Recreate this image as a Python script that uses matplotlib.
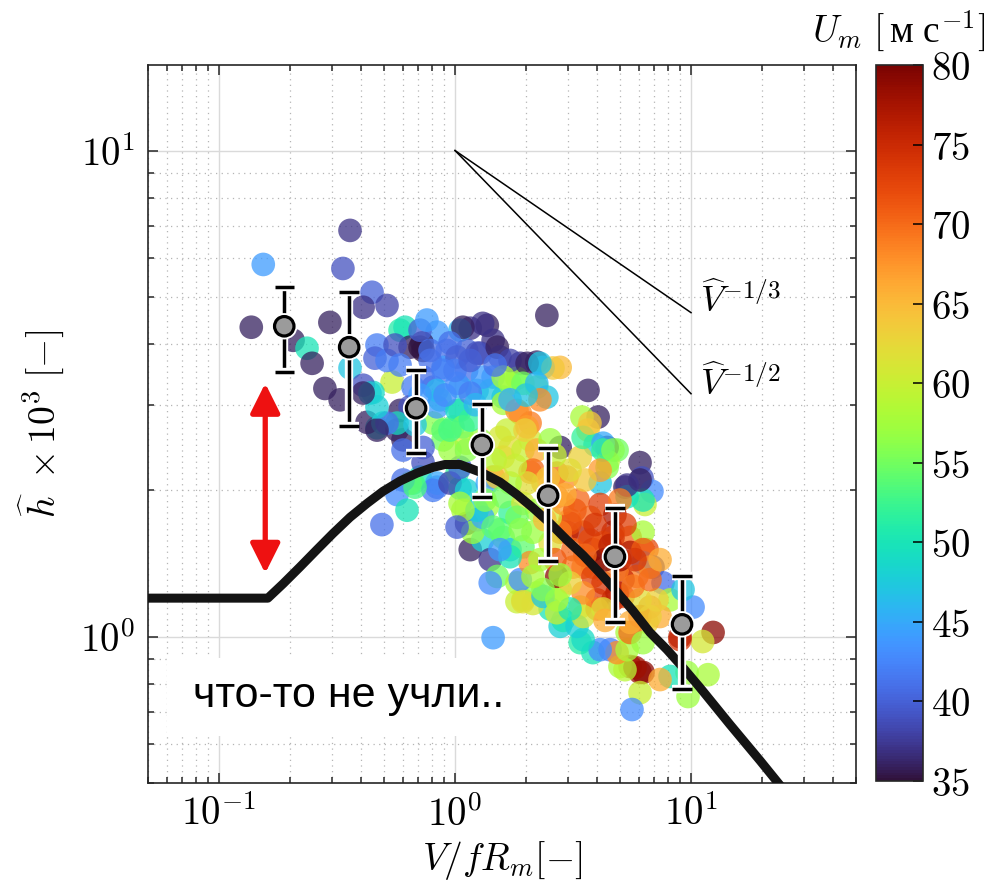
import numpy as np
import matplotlib.pyplot as plt
import matplotlib.patheffects as pe
from matplotlib.colors import Normalize
from matplotlib.patches import Rectangle
from matplotlib.ticker import FuncFormatter, LogLocator, NullFormatter

plt.rcParams["mathtext.fontset"] = "cm"

# individual storms: V/fR_m, h_hat*1e3, U_m [m/s]
v_ratio = [
    0.359, 0.154, 0.335, 0.137, 0.295, 0.445, 0.408, 0.515, 0.206, 0.236,
    0.248, 0.281, 0.326, 0.359, 0.585, 0.467, 0.458, 0.541, 0.449, 0.467,
    0.424, 0.408, 2.45, 3.66, 4.04, 3.45, 3.66, 4.86, 4.41, 3.92,
    4.45, 6.08, 6.20, 5.25, 6.83, 6.38, 5.36, 4.12, 2.79, 1.16,
    1.37, 1.45, 1.05, 0.839, 0.614, 0.725, 0.732, 0.925, 1.12, 1.28,
    1.55, 1.89, 2.22, 2.36, 2.60, 0.89, 1.12, 1.45, 1.83, 2.22,
    2.45, 0.807, 1.05, 1.24, 1.60, 1.89, 2.08, 0.864, 1.05, 0.807,
    0.98, 0.89, 1.12, 1.66, 1.71, 2.08, 2.79, 2.08, 2.70, 1.45,
    1.02, 0.711, 0.664, 0.839, 1.05, 0.732, 0.585, 0.602, 0.495, 0.568,
    0.602, 0.732, 0.645, 0.602, 0.568, 0.626, 0.490, 0.732, 0.839, 0.807,
    0.952, 1.05, 1.12, 1.37, 1.12, 1.16, 1.31, 1.41, 1.60, 1.51,
    1.94, 1.83, 2.22, 2.53, 2.79, 3.39, 3.84, 4.54, 5.52, 6.08,
    5.00, 1.45, 1.41, 4.67, 5.52, 6.51, 6.90, 6.26, 5.90, 7.61,
    8.15, 10.2, 12.4, 11.2, 8.98, 11.8, 9.62, 9.71, 8.15, 6.26,
    5.79, 5.25, 6.08, 5.62, 7.39, 4.86, 5.36, 4.12, 3.49, 5.36,
    6.51, 5.52, 6.70, 6.08, 7.39, 4.00, 3.39, 2.87, 3.29, 2.79,
    3.84, 4.24, 3.16, 2.98, 3.49, 3.73, 3.07, 5.52, 5.15, 5.15,
    4.67, 4.00, 6.08, 6.26, 6.26, 6.08, 5.36, 4.41, 9.25, 8.98,
    1.83, 2.70, 2.14, 0.677, 1.24, 1.19, 1.05, 1.71, 1.94, 1.89,
    1.94, 2.36, 2.70, 1.55, 2.08, 1.71, 1.37, 0.839, 1.02, 0.89,
    1.08, 0.952, 1.12, 1.41, 1.60, 1.71, 1.83, 2.02, 1.55, 1.60,
    1.94, 2.22, 2.53, 2.14, 2.36, 2.02, 1.71, 1.51, 1.60, 1.94,
    2.22, 2.70, 2.98, 3.39, 3.49, 4.24, 3.07, 2.79, 2.53, 3.16,
    3.84, 4.24, 4.67, 3.49, 3.84, 3.49, 3.07, 4.86, 4.86, 5.68,
    6.26, 6.70, 7.17, 5.52, 6.70, 6.26, 4.24, 3.49, 3.07, 2.70,
    2.36, 2.14, 1.71, 1.55, 1.31, 1.24, 1.45, 1.08, 1.02, 1.83,
    2.14, 2.53, 2.87, 4.24, 4.67, 3.73, 1.31, 1.08, 0.645, 0.711,
    0.952, 1.02, 1.24, 1.51, 1.71, 2.02, 2.29, 0.784, 0.89, 1.31,
    1.60, 1.94, 2.22, 0.664, 0.839, 1.02, 1.16, 0.645, 0.568, 0.515,
    0.467, 0.467, 0.436, 0.408, 0.515, 0.557, 0.711, 0.76, 3.32, 4.12,
    4.76, 5.00, 4.32, 3.73, 2.65, 2.40, 4.12, 3.55, 3.07, 2.65,
    2.29, 1.98, 3.22, 3.92, 4.54, 5.25, 3.55, 5.79, 6.70, 2.92,
    2.48, 5.00, 7.39, 4.32, 1.28, 1.48, 1.16, 0.952, 1.80, 1.34,
    1.89, 2.29, 2.79, 1.00, 1.16, 0.784, 1.48, 0.711, 0.907, 1.22,
    1.71, 2.00, 0.585, 0.677,
]
h_hat = [
    6.85, 5.83, 5.72, 4.33, 4.43, 5.11, 4.76, 4.80, 4.07, 3.92,
    3.65, 3.24, 3.07, 3.57, 4.27, 3.98, 3.74, 3.34, 3.18, 2.69,
    2.76, 3.29, 4.58, 3.21, 2.83, 2.83, 2.66, 2.42, 2.45, 2.48,
    2.29, 2.28, 2.12, 2.03, 1.99, 1.87, 1.94, 2.07, 3.58, 4.31,
    4.37, 4.07, 4.27, 4.23, 4.33, 4.02, 3.88, 3.88, 3.88, 3.83,
    3.76, 3.65, 3.67, 3.58, 3.57, 3.58, 3.53, 3.42, 3.40, 3.26,
    3.11, 3.26, 3.26, 3.21, 3.11, 2.88, 2.75, 3.07, 2.92, 2.75,
    2.70, 2.54, 2.50, 2.66, 2.45, 2.54, 2.45, 2.18, 2.17, 2.13,
    2.17, 2.13, 2.07, 2.03, 2.02, 3.42, 2.92, 2.54, 2.75, 2.66,
    2.42, 2.45, 2.07, 2.10, 1.96, 1.82, 1.70, 2.28, 2.07, 2.00,
    2.07, 2.23, 2.00, 2.07, 1.71, 1.51, 1.58, 1.44, 1.60, 1.33,
    1.19, 1.29, 1.23, 1.14, 1.05, 0.972, 0.927, 0.94, 0.868, 0.844,
    0.868, 0.995, 1.29, 1.64, 1.60, 1.51, 1.39, 1.42, 1.33, 1.29,
    1.19, 1.15, 1.02, 0.977, 0.986, 0.835, 0.844, 0.753, 0.828, 0.844,
    0.864, 0.855, 0.767, 0.708, 0.816, 0.927, 0.94, 0.94, 0.986, 1.02,
    1.07, 1.02, 1.15, 1.10, 1.10, 1.19, 1.15, 1.08, 1.05, 1.25,
    1.39, 1.29, 1.39, 1.64, 1.64, 1.76, 1.74, 1.49, 1.31, 1.21,
    1.19, 1.14, 1.19, 1.64, 1.91, 2.10, 2.05, 2.23, 1.25, 1.00,
    1.18, 1.33, 1.17, 2.03, 1.74, 1.64, 1.88, 1.51, 1.53, 1.31,
    1.18, 1.21, 1.12, 1.66, 1.42, 1.80, 1.85, 2.97, 2.92, 2.66,
    2.70, 2.42, 2.42, 3.21, 3.02, 3.32, 2.92, 2.70, 2.57, 2.34,
    2.42, 2.42, 2.54, 2.20, 2.07, 2.07, 2.07, 2.13, 1.94, 1.88,
    1.82, 1.94, 2.13, 2.34, 2.57, 2.50, 1.71, 1.64, 1.56, 1.51,
    1.51, 1.56, 1.60, 1.39, 1.33, 1.23, 1.29, 1.37, 1.23, 1.27,
    1.51, 1.39, 1.19, 1.07, 1.10, 0.972, 1.14, 1.10, 1.14, 1.19,
    1.25, 1.33, 1.46, 1.51, 1.76, 1.82, 1.68, 1.82, 1.68, 1.76,
    1.64, 1.76, 1.88, 2.42, 2.42, 2.75, 4.41, 4.33, 3.94, 3.94,
    4.02, 3.76, 3.83, 3.94, 3.70, 3.65, 3.65, 3.70, 3.53, 3.42,
    3.42, 3.32, 3.32, 3.26, 3.21, 3.32, 3.17, 2.97, 2.75, 2.75,
    2.66, 2.97, 3.17, 3.17, 3.70, 3.98, 4.27, 4.48, 1.91, 1.87,
    1.78, 1.44, 1.44, 1.58, 1.44, 1.74, 2.20, 2.10, 2.20, 2.36,
    3.07, 2.66, 1.82, 1.70, 1.54, 1.70, 1.47, 1.44, 1.31, 1.96,
    2.12, 1.91, 1.44, 1.08, 2.54, 2.31, 2.79, 2.66, 2.25, 1.91,
    1.66, 1.44, 1.34, 3.53, 3.70, 3.88, 3.62, 3.14, 3.14, 3.00,
    3.07, 3.14, 3.62, 2.73,
]
u_max = [
    37, 44, 39, 36, 36, 40, 37, 38, 36, 50,
    36, 36, 36, 47, 51, 42, 40, 60, 49, 49,
    36, 39, 36, 36, 36, 58, 64, 55, 36, 48,
    58, 36, 39, 36, 43, 60, 50, 47, 65, 37,
    36, 37, 46, 44, 50, 36, 35, 41, 40, 38,
    39, 37, 36, 46, 64, 44, 41, 44, 57, 55,
    47, 42, 46, 45, 49, 68, 69, 48, 53, 56,
    54, 55, 60, 60, 62, 61, 36, 68, 70, 68,
    52, 50, 53, 42, 49, 41, 36, 36, 48, 36,
    41, 40, 57, 41, 43, 50, 41, 39, 45, 42,
    38, 40, 48, 45, 36, 36, 48, 37, 54, 55,
    61, 58, 56, 50, 48, 51, 50, 42, 77, 78,
    58, 44, 43, 76, 70, 72, 37, 42, 69, 41,
    58, 43, 79, 61, 74, 58, 57, 57, 50, 79,
    78, 59, 60, 43, 66, 68, 58, 43, 49, 58,
    63, 70, 68, 70, 66, 73, 62, 50, 48, 58,
    70, 74, 69, 75, 76, 70, 69, 77, 75, 72,
    75, 69, 62, 58, 50, 36, 37, 56, 47, 76,
    60, 79, 61, 53, 43, 57, 58, 47, 54, 43,
    62, 47, 60, 54, 68, 52, 57, 44, 49, 54,
    55, 57, 56, 47, 58, 56, 68, 67, 61, 62,
    60, 66, 57, 70, 67, 62, 58, 64, 55, 61,
    57, 68, 68, 63, 52, 45, 72, 69, 62, 70,
    76, 70, 74, 69, 73, 68, 63, 69, 76, 69,
    71, 68, 63, 66, 63, 57, 62, 61, 50, 58,
    56, 58, 50, 44, 45, 48, 54, 58, 40, 55,
    57, 61, 67, 52, 56, 64, 37, 36, 36, 35,
    41, 40, 39, 36, 38, 36, 47, 41, 42, 44,
    58, 55, 46, 42, 46, 43, 42, 39, 49, 41,
    36, 48, 48, 36, 42, 39, 40, 44, 70, 73,
    77, 78, 80, 72, 71, 65, 67, 64, 62, 60,
    68, 63, 71, 74, 76, 73, 70, 74, 70, 66,
    64, 69, 66, 66, 57, 59, 52, 53, 60, 56,
    56, 58, 57, 42, 40, 41, 41, 44, 43, 46,
    45, 47, 42, 47,
]

# bin averages with spread
bin_v = [0.189, 0.356, 0.684, 1.30, 2.48, 4.76, 9.16]
bin_h = [4.35, 3.94, 2.95, 2.48, 1.95, 1.46, 1.06]
bin_lo = [3.50, 2.71, 2.39, 1.94, 1.43, 1.07, 0.782]
bin_hi = [5.23, 5.11, 3.53, 3.01, 2.44, 1.84, 1.33]

# theoretical curve
model_v = [0.05, 0.161, 0.173, 0.187, 0.220, 0.260, 0.304, 0.359, 0.424, 0.495,
           0.585, 0.690, 0.807, 0.907, 1.05, 1.31, 1.55, 1.83, 2.14, 2.53,
           2.98, 3.49, 4.12, 4.76, 5.68, 6.70, 7.91, 9.16, 10.9, 14.6,
           19.6, 23.4]
model_h = [1.20, 1.20, 1.24, 1.285, 1.39, 1.51, 1.63, 1.76, 1.88, 1.99,
           2.09, 2.17, 2.23, 2.26, 2.26, 2.17, 2.08, 1.96, 1.84, 1.71,
           1.58, 1.47, 1.35, 1.25, 1.13, 1.02, 0.94, 0.868, 0.786, 0.660,
           0.556, 0.50]

# power-law guides
guide_v = [1, 10]
guide_third = [10, 4.64]
guide_half = [10, 3.16]

# arrow showing the gap
gap_v = 0.157
gap_h = [1.35, 3.32]

fig = plt.figure(figsize=(9.95, 8.86), dpi=100)
ax = fig.add_axes([0.1487, 0.1163, 0.7116, 0.8104])
cax = fig.add_axes([0.8804, 0.1185, 0.0472, 0.8082])

ax.set_xscale("log")
ax.set_yscale("log")
ax.set_xlim(0.05, 50)
ax.set_ylim(0.5, 15)

ax.grid(True, which="major", color="#dadada", lw=1.0)
ax.grid(True, which="minor", color="#b5b5b5", lw=0.9, ls=(0, (1, 3.5)))
ax.set_axisbelow(True)

ax.add_patch(Rectangle((0.027, 0.066), 0.505, 0.108, transform=ax.transAxes,
                       facecolor="white", edgecolor="none", zorder=1.5))
ax.text(0.064, 0.106, "что-то не учли..", transform=ax.transAxes, fontsize=31,
        family="Liberation Sans", va="baseline", zorder=1.6)

norm = Normalize(35, 80)
ax.scatter(v_ratio, h_hat, c=u_max, cmap="turbo", norm=norm, s=290, alpha=0.75,
           edgecolors="none", zorder=2)

ax.plot(model_v, model_h, color="#141414", lw=6.5, solid_joinstyle="round", zorder=3)

ax.plot(guide_v, guide_third, color="k", lw=1.1, zorder=3)
ax.plot(guide_v, guide_half, color="k", lw=1.1, zorder=3)
ax.text(10.9, 4.92, r"$\widehat{V}^{-1/3}$", fontsize=26, va="center")
ax.text(10.9, 3.32, r"$\widehat{V}^{-1/2}$", fontsize=26, va="center")

ax.annotate("", xy=(gap_v, gap_h[0]), xytext=(gap_v, gap_h[1]),
            arrowprops=dict(arrowstyle="<|-|>,head_length=0.4,head_width=0.2",
                            mutation_scale=45, color="#ee1111", lw=3.8,
                            shrinkA=0, shrinkB=0), zorder=4)

halo = [pe.Stroke(linewidth=6, foreground="white"), pe.Normal()]
yerr = [np.subtract(bin_h, bin_lo), np.subtract(bin_hi, bin_h)]
eb = ax.errorbar(bin_v, bin_h, yerr=yerr, fmt="none", ecolor="k", elinewidth=2.5,
                 capsize=7, capthick=2.5, zorder=4)
for art in list(eb.lines[1]) + list(eb.lines[2]):
    art.set_path_effects(halo)
ax.plot(bin_v, bin_h, "o", ms=14, mfc="#9b9b9b", mec="k", mew=2.3, zorder=5,
        path_effects=[pe.Stroke(linewidth=5, foreground="white"), pe.Normal()])

decade = FuncFormatter(lambda v, _: rf"$10^{{{int(round(np.log10(v)))}}}$")
for axis in (ax.xaxis, ax.yaxis):
    axis.set_major_locator(LogLocator(base=10))
    axis.set_major_formatter(decade)
    axis.set_minor_locator(LogLocator(base=10, subs=np.arange(2, 10)))
    axis.set_minor_formatter(NullFormatter())
ax.tick_params(which="both", direction="in", top=True, right=True, colors="#262626",
               labelcolor="k", width=1.1)
ax.tick_params(which="major", length=7, labelsize=28, pad=9)
ax.tick_params(which="minor", length=4)
for sp in ax.spines.values():
    sp.set_color("#262626")
    sp.set_linewidth(1.2)

ax.set_xlabel(r"$V/fR_m[-]$", fontsize=27, labelpad=4)
ax.set_ylabel(r"$\widehat{h}\ \times 10^3\ [-]$", fontsize=27, labelpad=10)

sm = plt.cm.ScalarMappable(norm=norm, cmap="turbo")
cb = fig.colorbar(sm, cax=cax)
cb.set_ticks(np.arange(35, 81, 5))
cb.ax.yaxis.set_major_formatter(FuncFormatter(lambda v, _: rf"${v:.0f}$"))
cax.tick_params(direction="in", length=7, width=1.1, labelsize=28, pad=6)
cb.outline.set_linewidth(1.2)
cb.outline.set_edgecolor("#262626")

fig.text(0.99, 0.966, r"$U_m\ [\,$м с$^{-1}]$", ha="right", va="center",
         fontsize=27, family="Liberation Serif")

fig.savefig("out.png", dpi=100, facecolor="white")
